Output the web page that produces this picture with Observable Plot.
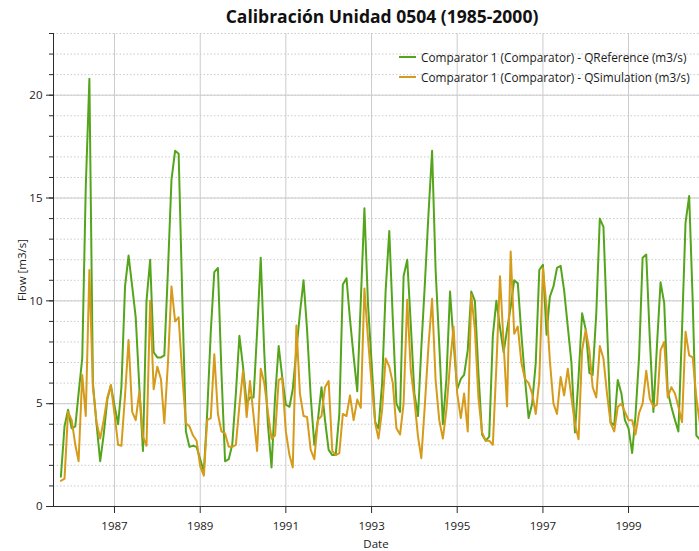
<!DOCTYPE html>
<html>
<head>
<meta charset="utf-8">
<script src="https://cdn.jsdelivr.net/npm/d3@7"></script>
<script src="https://cdn.jsdelivr.net/npm/@observablehq/plot@0.6"></script>
<style>
  body { margin: 0; background: #fff; font-family: "Open Sans", sans-serif; }
  #chart { position: relative; width: 699px; height: 551px; overflow: hidden; background: #fff; }
  #chart svg { position: absolute; left: 0; top: 0; }
  #title { position: absolute; top: 4px; left: 0; width: 764px; text-align: center;
           font-weight: 700; font-size: 17.5px; color: #111; white-space: nowrap; }
  #legend { position: absolute; left: 399px; top: 47px; font-size: 11.8px; color: #1a1a1a; }
  #legend .row { height: 20px; display: flex; align-items: center; white-space: nowrap; }
  #legend .sw { width: 17px; height: 2px; margin-right: 5px; }
  .axis-label { position: absolute; font-size: 11.5px; color: #1a1a1a; white-space: nowrap; }
  #ylabel { left: 21px; top: 270px; transform: translate(-50%, -50%) rotate(-90deg); }
  #xlabel { left: 376px; top: 543px; transform: translate(-50%, -50%); }
</style>
</head>
<body>
<div id="chart">
  <div id="title">Calibración Unidad 0504 (1985-2000)</div>
  <div class="axis-label" id="ylabel">Flow [m3/s]</div>
  <div class="axis-label" id="xlabel">Date</div>
</div>
<script>
// Monthly flows, October 1985 – September 2000 (one row per hydrological year, Oct..Sep)
const qReference = [
  1.45, 3.9, 4.7, 3.8, 3.9, 5.5, 7.2, 15.5, 20.8, 6.0, 4.0, 2.2,
  3.5, 5.2, 5.9, 4.9, 4.0, 5.8, 10.7, 12.2, 10.7, 9.2, 5.8, 2.7,
  10.0, 12.0, 7.5, 7.25, 7.25, 7.35, 11.5, 15.9, 17.3, 17.15, 10.2, 3.65,
  2.9, 2.95, 2.9, 2.3, 1.7, 4.5, 8.5, 11.4, 11.6, 6.5, 2.2, 2.3,
  3.0, 5.5, 8.3, 6.8, 5.0, 5.3, 5.3, 8.5, 12.1, 7.5, 4.0, 1.9,
  5.3, 7.8, 6.3, 4.95, 4.85, 5.7, 7.6, 9.4, 11.0, 8.6, 5.35, 3.0,
  4.2, 5.8, 4.2, 2.75, 2.5, 2.5, 4.5, 10.8, 11.1, 9.1, 7.3, 5.6,
  10.0, 14.5, 9.9, 7.0, 4.1, 3.8, 6.0, 10.5, 13.4, 9.1, 5.0, 4.6,
  11.2, 12.0, 8.9, 5.5, 4.4, 7.7, 10.9, 14.2, 17.3, 11.5, 7.9, 4.0,
  6.2, 10.45, 8.0, 5.7, 6.2, 6.4, 7.6, 10.45, 10.0, 6.5, 3.5, 3.2,
  3.4, 8.3, 10.0, 8.7, 7.5, 8.6, 9.7, 11.0, 10.85, 8.4, 6.2, 4.3,
  5.0, 7.0, 11.5, 11.75, 8.35, 10.2, 10.7, 11.6, 11.7, 10.5, 8.75, 7.0,
  3.6, 6.3, 9.4, 8.6, 6.5, 6.4, 9.4, 14.0, 13.6, 8.9, 4.1, 3.95,
  6.15, 5.5, 4.2, 3.8, 2.6, 4.4, 7.3, 12.1, 12.25, 8.2, 4.6, 7.9,
  10.9, 9.9, 5.6, 4.85, 4.2, 3.65, 8.6, 13.8, 15.1, 10.0, 3.45, 3.25
];
const qSimulation = [
  1.25, 1.35, 4.6, 4.2, 3.0, 2.2, 6.4, 4.4, 11.5, 5.8, 4.1, 3.3,
  4.2, 5.3, 5.9, 4.5, 3.0, 2.95, 5.4, 8.1, 4.6, 4.2, 5.6, 3.4,
  2.95, 10.0, 5.7, 6.8, 6.2, 4.05, 7.0, 10.7, 9.0, 9.2, 6.4, 4.05,
  3.9, 3.45, 3.2, 1.95, 1.5, 4.2, 4.3, 7.4, 4.5, 3.65, 3.55, 2.9,
  2.9, 3.0, 4.9, 6.6, 4.35, 6.1, 4.4, 2.7, 6.7, 6.0, 4.6, 3.3,
  3.45, 6.15, 6.25, 3.65, 2.5, 1.9, 8.8, 5.5, 4.4, 4.35, 2.75, 2.3,
  4.2, 4.4, 5.8, 6.1, 2.7, 2.5, 2.6, 4.5, 4.4, 5.4, 4.2, 5.2,
  4.8, 10.6, 8.2, 6.0, 4.05, 3.3, 4.7, 7.2, 6.8, 6.0, 3.8, 3.5,
  5.0, 10.05, 6.65, 5.2, 3.4, 2.35, 5.0, 7.8, 10.1, 6.15, 4.2, 3.3,
  4.7, 6.95, 8.75, 5.5, 4.3, 5.5, 3.65, 10.3, 8.6, 5.3, 3.6, 3.2,
  3.2, 3.0, 6.8, 11.2, 7.9, 4.86, 12.4, 8.4, 8.75, 7.0, 6.2, 6.0,
  5.5, 4.5, 6.15, 11.6, 9.7, 7.1, 5.0, 4.5, 6.3, 5.4, 6.7, 5.3,
  4.0, 3.27, 7.6, 8.6, 7.6, 5.8, 5.3, 7.8, 7.2, 5.5, 4.05, 3.65,
  4.85, 5.0, 4.6, 4.2, 4.2, 3.5, 4.55, 5.0, 6.6, 5.25, 4.85, 4.95,
  7.6, 8.0, 5.3, 5.8, 5.5, 4.85, 4.1, 8.5, 7.35, 7.25, 5.3, 4.0
];
const seriesNames = [
  "Comparator 1 (Comparator) - QReference (m3/s)",
  "Comparator 1 (Comparator) - QSimulation (m3/s)"
];
const seriesColors = ["#55a51c", "#d69b1a"];
const labeledYears = [1987, 1989, 1991, 1993, 1995, 1997, 1999];
const majorFlowTicks = [0, 5, 10, 15, 20];
const minorFlowTicks = d3.range(0, 24);

// first series month: October 1985
const dates = qReference.map((_, i) => new Date(Date.UTC(1985, 9 + i, 1)));
const rows = dates.map((date, i) => ({date, ref: qReference[i], sim: qSimulation[i]}));
const xDomain = [new Date(Date.UTC(1985, 6, 30)), new Date(Date.UTC(2000, 7, 28))];
const yearTicks = labeledYears.map(y => new Date(Date.UTC(y, 0, 1)));

const gridColor = "#cbcbcb";
const axisColor = "#2b2b2b";

const chart = Plot.plot({
  width: 699,
  height: 551,
  marginTop: 33,
  marginBottom: 45,
  marginLeft: 53,
  marginRight: 0,
  style: {fontFamily: "Open Sans, sans-serif", fontSize: "11.5px", color: "#1a1a1a", background: "transparent"},
  x: {type: "utc", domain: xDomain},
  y: {domain: [0, 23]},
  marks: [
    Plot.gridY(minorFlowTicks, {stroke: gridColor, strokeOpacity: 1, strokeDasharray: "1.5,2"}),
    Plot.gridY(majorFlowTicks, {stroke: gridColor, strokeOpacity: 1}),
    Plot.gridX(yearTicks, {stroke: gridColor, strokeOpacity: 1}),
    Plot.line(rows, {x: "date", y: "ref", stroke: seriesColors[0], strokeWidth: 2, clip: true}),
    Plot.line(rows, {x: "date", y: "sim", stroke: seriesColors[1], strokeWidth: 2, clip: true}),
    Plot.axisY(minorFlowTicks, {tickSize: 4, tickFormat: () => "", label: null, stroke: axisColor}),
    Plot.axisY(majorFlowTicks, {tickSize: 7, tickPadding: 4, label: null, stroke: axisColor}),
    Plot.axisX(yearTicks, {tickSize: 7, tickPadding: 8, tickFormat: d3.utcFormat("%Y"), label: null, stroke: axisColor}),
    Plot.ruleX([xDomain[0]], {stroke: axisColor}),
    Plot.ruleY([0], {stroke: axisColor})
  ]
});

const root = document.getElementById("chart");
root.insertBefore(chart, root.firstChild);

// legend, top-right inside the plot area
const legend = document.createElement("div");
legend.id = "legend";
seriesNames.forEach((name, i) => {
  const row = document.createElement("div");
  row.className = "row";
  const sw = document.createElement("span");
  sw.className = "sw";
  sw.style.background = seriesColors[i];
  const label = document.createElement("span");
  label.textContent = name;
  row.appendChild(sw);
  row.appendChild(label);
  legend.appendChild(row);
});
root.appendChild(legend);
</script>
</body>
</html>
